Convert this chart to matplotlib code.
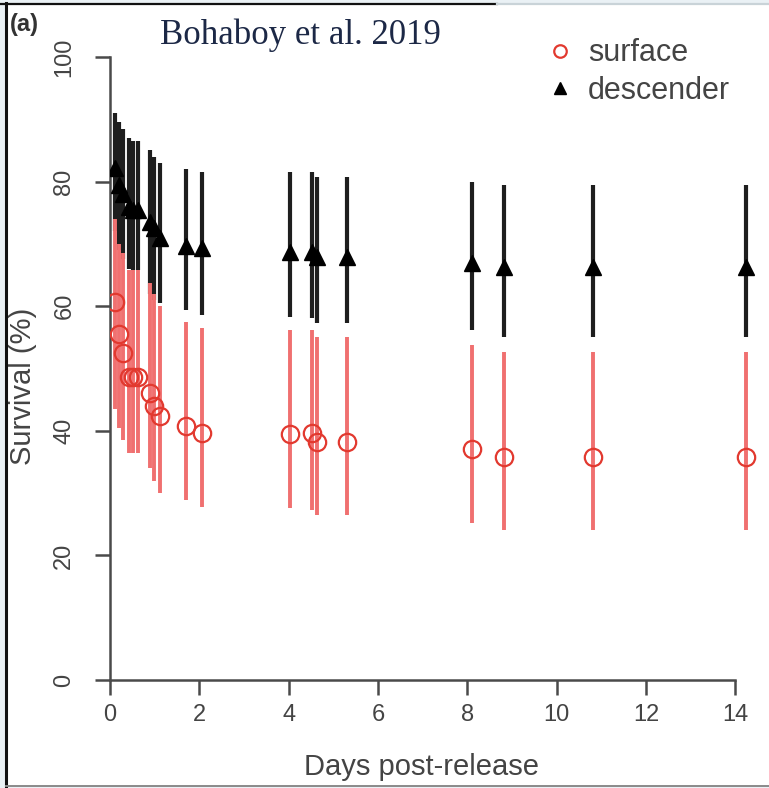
import matplotlib.pyplot as plt
from matplotlib.lines import Line2D
from matplotlib.patches import Rectangle

# dias despues de la liberacion (los mismos para los dos grupos)
dias = [0.11, 0.2, 0.3, 0.42, 0.52, 0.63, 0.9, 0.99, 1.12, 1.7, 2.05,
        4.03, 4.52, 4.64, 5.31, 8.11, 8.82, 10.82, 14.24]

# superficie (circulos rojos)
sup_media = [60.7, 55.5, 52.5, 48.7, 48.7, 48.7, 46.0, 44.0, 42.3, 40.7, 39.6,
             39.5, 39.6, 38.2, 38.2, 37.1, 35.8, 35.8, 35.8]
sup_inf = [43.5, 40.5, 38.5, 36.5, 36.4, 36.4, 34.0, 32.0, 30.0, 28.9, 27.8,
           27.6, 27.3, 26.5, 26.5, 25.2, 24.1, 24.1, 24.1]
sup_sup = [74.0, 70.0, 68.5, 65.8, 65.8, 65.8, 63.7, 62.0, 60.0, 57.5, 56.5,
           56.2, 56.2, 55.1, 55.1, 53.8, 52.6, 52.6, 52.6]

# descender (triangulos negros)
des_media = [82.2, 79.5, 78.0, 76.0, 75.5, 75.5, 73.5, 72.5, 71.0, 69.6, 69.3,
             68.7, 68.7, 67.9, 67.9, 66.9, 66.3, 66.3, 66.3]
des_inf = [72.0, 69.0, 67.5, 66.0, 65.8, 65.8, 62.0, 61.0, 60.5, 59.4, 58.6,
           58.3, 58.1, 57.3, 57.3, 56.2, 55.1, 55.1, 55.1]
des_sup = [91.0, 89.5, 88.5, 87.0, 86.5, 86.5, 85.0, 84.0, 83.0, 82.0, 81.5,
           81.5, 81.5, 80.7, 80.7, 79.9, 79.5, 79.5, 79.5]

xticks = [0, 2, 4, 6, 8, 10, 12, 14]
yticks = [0, 20, 40, 60, 80, 100]

plt.rcParams['font.family'] = ['Liberation Sans', 'DejaVu Sans']

W, H = 769, 788
fig = plt.figure(figsize=(W / 100, H / 100), dpi=100)
fig.patch.set_facecolor('#eaf1f5')

# marco blanco con bordes como en la imagen
fig.patches.append(Rectangle((6 / W, 2 / H), 1, 1 - 6 / H, transform=fig.transFigure,
                             facecolor='white', edgecolor='none', zorder=-5))
fig.add_artist(Line2D([5.5 / W, 5.5 / W], [0, 1 - 3 / H], color='#111111', lw=2.2))
fig.add_artist(Line2D([0, 497 / W], [1 - 3.5 / H, 1 - 3.5 / H], color='#111111', lw=1.6))
fig.add_artist(Line2D([497 / W, 1], [1 - 3.5 / H, 1 - 3.5 / H], color='#c9d3d8', lw=1.6))
fig.add_artist(Line2D([6 / W, 1], [2 / H, 2 / H], color='#8a8a8a', lw=1.4))

ax = fig.add_axes([110 / W, 108 / H, 652 / W, 641.7 / H])
ax.set_facecolor('none')

def barras(media, inf, sup):
    return [[m - i for m, i in zip(media, inf)], [s - m for m, s in zip(media, sup)]]

ax.errorbar(dias, des_media, yerr=barras(des_media, des_inf, des_sup), fmt='none',
            ecolor='#1e1e1e', elinewidth=3, capsize=0, zorder=2)
ax.errorbar(dias, sup_media, yerr=barras(sup_media, sup_inf, sup_sup), fmt='none',
            ecolor='#f07070', elinewidth=2.8, capsize=0, zorder=3)
ax.plot(dias, des_media, linestyle='none', marker='^', markersize=12,
        color='black', zorder=4)
ax.plot(dias, sup_media, linestyle='none', marker='o', markersize=12.5,
        markerfacecolor='none', markeredgecolor='#e2392f', markeredgewidth=1.6, zorder=5)

ax.set_xlim(0, 14.6)
ax.set_ylim(0, 103)
ax.set_xticks(xticks)
ax.set_yticks(yticks)
for lado in ['top', 'right']:
    ax.spines[lado].set_visible(False)
ax.spines['left'].set_bounds(0, 100)
ax.spines['bottom'].set_bounds(0, 14)
for lado in ['left', 'bottom']:
    ax.spines[lado].set_color('#4a4a4a')
    ax.spines[lado].set_linewidth(1.8)
ax.tick_params(axis='both', direction='out', length=11, width=1.8, color='#4a4a4a',
               labelsize=17, labelcolor='#444444')
ax.tick_params(axis='x', pad=6)
ax.tick_params(axis='y', pad=14)
for lab in ax.get_yticklabels():
    lab.set_rotation(90)
    lab.set_va('center')

ax.set_xlabel('Days post-release', fontsize=21, color='#444444')
ax.set_ylabel('Survival (%)', fontsize=21, color='#444444')
ax.xaxis.set_label_coords(0.477, -0.114)
ax.yaxis.set_label_coords(-0.112, 0.457)

manejadores = [
    Line2D([], [], linestyle='none', marker='o', markersize=9, markerfacecolor='none',
           markeredgecolor='#e2392f', markeredgewidth=1.6),
    Line2D([], [], linestyle='none', marker='^', markersize=9, color='black'),
]
ax.legend(manejadores, ['surface', 'descender'], loc='upper left',
          bbox_to_anchor=(537 / W, 1 - 23 / H), bbox_transform=fig.transFigure,
          frameon=False, fontsize=22, labelcolor='#444444', handlelength=0.5,
          handletextpad=0.66, labelspacing=0.25, borderpad=0)

fig.text(10 / W, 1 - 24 / H, '(a)', fontsize=17, fontweight='bold', color='#333333',
         va='center', ha='left')
fig.text(300 / W, 1 - 35 / H, 'Bohaboy et al. 2019', fontsize=25, color='#1c2846',
         family=['Liberation Serif', 'DejaVu Serif'], ha='center', va='center')

fig.savefig('out.png', dpi=100, facecolor=fig.get_facecolor())
